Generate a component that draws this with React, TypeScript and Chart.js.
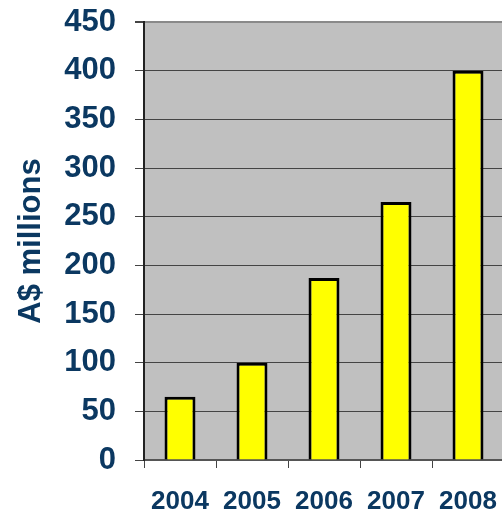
import React, { useEffect, useRef } from "react";
import { Chart, registerables } from "chart.js";

Chart.register(...registerables);

const years = ["2004", "2005", "2006", "2007", "2008"];
const revenue = [65, 100, 187, 265, 400];
const yTicks = [0, 50, 100, 150, 200, 250, 300, 350, 400, 450];

const NAVY = "#0b3861";
const FONT = "'Liberation Sans', Arial, sans-serif";

const plotBackground = {
  id: "plotBackground",
  beforeDraw(chart: any) {
    const { ctx, chartArea } = chart;
    ctx.save();
    ctx.fillStyle = "#c0c0c0";
    ctx.fillRect(chartArea.left, chartArea.top, chartArea.right - chartArea.left, chartArea.bottom - chartArea.top);
    ctx.restore();
  },
};

export default function App() {
  const ref = useRef<HTMLCanvasElement>(null);

  useEffect(() => {
    if (!ref.current) return;
    const chart = new Chart(ref.current, {
      type: "bar",
      data: {
        labels: years,
        datasets: [
          {
            data: revenue,
            backgroundColor: "#ffff00",
            borderColor: "#000000",
            borderWidth: 3,
            categoryPercentage: 1,
            barPercentage: 0.43,
          },
        ],
      },
      plugins: [plotBackground],
      options: {
        responsive: false,
        animation: false,
        layout: { padding: { top: 14, right: 34, left: 0, bottom: 0 } },
        plugins: { legend: { display: false }, tooltip: { enabled: false } },
        scales: {
          x: {
            offset: true,
            grid: {
              offset: true,
              drawOnChartArea: false,
              drawTicks: true,
              tickLength: 8,
              tickColor: "#444444",
            },
            border: { color: "#555555", width: 2 },
            ticks: {
              color: NAVY,
              font: { family: FONT, size: 26, weight: "bold" },
              padding: 18,
              maxRotation: 0,
            },
            afterFit(scale: any) {
              scale.height = 52;
              scale.paddingLeft = 0;
              scale.paddingRight = 0;
            },
          },
          y: {
            min: 0,
            max: 450,
            afterBuildTicks(scale: any) {
              scale.ticks = yTicks.map((v) => ({ value: v }));
            },
            grid: {
              color: (c: any) => (c.tick && c.tick.value === 450 ? "#8a8a8a" : "#444444"),
              lineWidth: (c: any) => (c.tick && c.tick.value === 450 ? 2 : 1),
              tickLength: 9,
              tickColor: "#444444",
            },
            border: { color: "#222222", width: 2 },
            ticks: {
              color: NAVY,
              font: { family: FONT, size: 31, weight: "bold" },
              padding: 19,
            },
            title: {
              display: true,
              text: "A$ millions",
              color: NAVY,
              font: { family: FONT, size: 31, weight: "bold" },
              padding: { top: 5, bottom: 0 },
            },
            afterFit(scale: any) {
              scale.width = 136;
              scale.paddingTop = 0;
              scale.paddingBottom = 0;
            },
          },
        },
      },
    });
    return () => chart.destroy();
  }, []);

  // The plot area runs off the right edge of the frame, so the frame clips it.
  return (
    <div style={{ position: "fixed", left: 0, top: 0, width: 502, height: 512, overflow: "hidden" }}>
      <canvas
        ref={ref}
        width={530}
        height={504}
        style={{ position: "absolute", left: 8, top: 8, display: "block" }}
      />
    </div>
  );
}
